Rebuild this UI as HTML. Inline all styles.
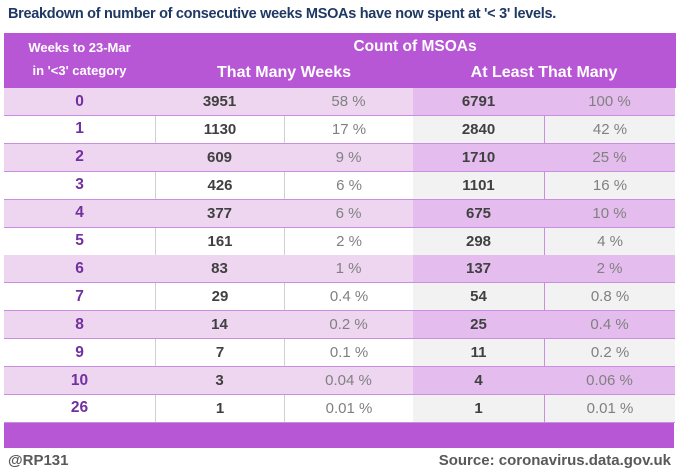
<!DOCTYPE html>
<html><head><meta charset="utf-8"><style>
body{margin:0;width:679px;height:474px;background:#fff;font-family:"Liberation Sans",sans-serif;position:relative;overflow:hidden}
.a{position:absolute}
#title{left:8px;top:6px;font-size:14.5px;font-weight:bold;color:#1f3864;letter-spacing:-0.3px;white-space:nowrap}
#hdr{left:4px;top:33px;width:672px;height:55px;background:#b857d5}
.h{color:#fff;font-weight:bold;text-align:center;white-space:nowrap}
.cell{position:absolute;text-align:center;font-weight:bold;font-size:15px}
.num{color:#404040}.pct{color:#808080;font-weight:normal;font-size:15px}.wk{color:#7030a0;font-size:15.5px}
#foot{left:4px;top:423px;width:670px;height:25px;background:#b857d5}
.ft{top:452px;font-size:15px;font-weight:bold;color:#595959}
</style></head><body>
<div id="title" class="a">Breakdown of number of consecutive weeks MSOAs have now spent at '&lt; 3' levels.</div>
<div id="hdr" class="a"></div>
<div class="a h" style="left:4px;width:151px;top:40px;font-size:13px">Weeks to 23-Mar</div>
<div class="a h" style="left:4px;width:151px;top:63px;font-size:13px">in '&lt;3' category</div>
<div class="a h" style="left:155px;width:520px;top:38px;font-size:15.5px">Count of MSOAs</div>
<div class="a h" style="left:155px;width:258px;top:64px;font-size:16px">That Many Weeks</div>
<div class="a h" style="left:413px;width:262px;top:64px;font-size:16px">At Least That Many</div>
<div id="rows"></div>
<div id="foot" class="a"></div>
<div class="a ft" style="left:8px">@RP131</div>
<div class="a ft" style="right:8px">Source: coronavirus.data.gov.uk</div>
<script>
const weeks=["0","1","2","3","4","5","6","7","8","9","10","26"];
const countExact=[3951,1130,609,426,377,161,83,29,14,7,3,1];
const pctExact=["58 %","17 %","9 %","6 %","6 %","2 %","1 %","0.4 %","0.2 %","0.1 %","0.04 %","0.01 %"];
const countAtLeast=[6791,2840,1710,1101,675,298,137,54,25,11,4,1];
const pctAtLeast=["100 %","42 %","25 %","16 %","10 %","4 %","2 %","0.8 %","0.4 %","0.2 %","0.06 %","0.01 %"];
const R=document.getElementById('rows');
const cols=[[4,151],[155,129],[284,129],[413,131],[544,131]];
for(let i=0;i<weeks.length;i++){
  const y=88+i*27.9, odd=i%2==0;
  const bgL=odd?'#eed6f1':'#ffffff', bgR=odd?'#e4bdee':'#f2f2f2';
  const row=document.createElement('div');
  
  
  row.className='a';
  row.style.cssText=`left:4px;top:${y}px;width:671px;height:28px;border-bottom:1.5px solid #c98ee0;box-sizing:border-box`;
  R.appendChild(row);
  const vals=[weeks[i],countExact[i],pctExact[i],countAtLeast[i],pctAtLeast[i]];
  const cls=['wk','num','pct','num','pct'];
  const names=['week-label','count-exact','pct-exact','count-at-least','pct-at-least'];
  for(let c=0;c<5;c++){
    const d=document.createElement('div');
    
    
    d.className='cell '+cls[c];
    let bl='';
    if(!odd&&(c==1||c==2||c==4))bl=`border-left:1px solid ${c==4?'#c98ee0':'#d0d0d0'};`;
    d.style.cssText=`left:${cols[c][0]}px;top:${y}px;width:${cols[c][1]}px;height:27px;display:flex;align-items:center;justify-content:center;background:${c>=3?bgR:bgL};box-sizing:border-box;${bl}`;
    d.textContent=vals[c];
    R.appendChild(d);
  }
}
</script>
</body></html>
